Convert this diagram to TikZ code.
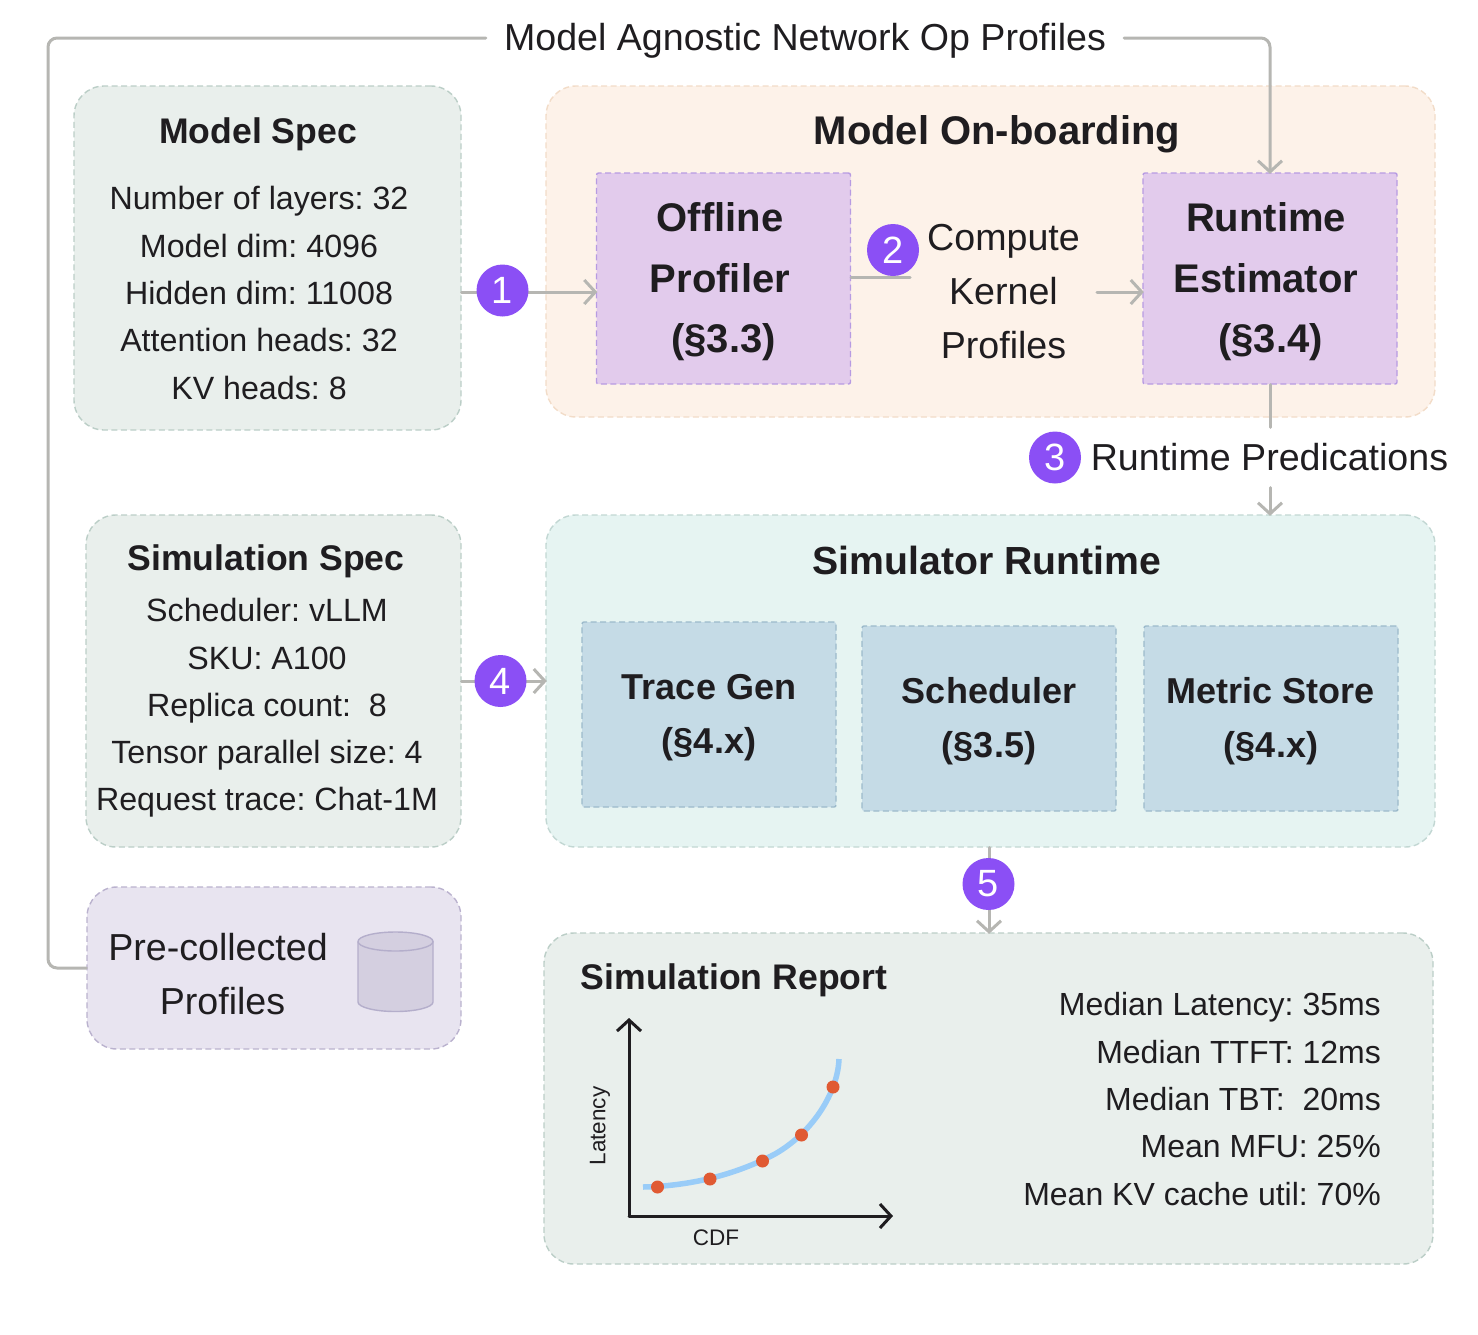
\documentclass[tikz,border=0pt]{standalone}
\usepackage{fontspec}
\setmainfont{Liberation Sans}
\usetikzlibrary{arrows.meta,calc}
\frenchspacing
\definecolor{ink}{HTML}{1F1D20}
\definecolor{conn}{HTML}{B6B6B2}
\definecolor{badge}{HTML}{8B4FF5}
\definecolor{specfill}{HTML}{E9EFEC}\definecolor{specline}{HTML}{BBCEC7}
\definecolor{onbfill}{HTML}{FDF2E9}\definecolor{onbline}{HTML}{F2DCC8}
\definecolor{purfill}{HTML}{E2CBEC}\definecolor{purline}{HTML}{B79BE2}
\definecolor{simfill}{HTML}{E6F4F2}\definecolor{simline}{HTML}{C2D7D3}
\definecolor{blufill}{HTML}{C5DBE6}\definecolor{bluline}{HTML}{9CBACB}
\definecolor{prefill}{HTML}{E8E4F0}\definecolor{preline}{HTML}{BAB2CE}
\definecolor{cylfill}{HTML}{D4CFE0}\definecolor{cylline}{HTML}{B4AECB}
\definecolor{curvec}{HTML}{99CCF8}
\definecolor{dotc}{HTML}{E05A33}
\tikzset{
  x=1pt,y=-1pt,
  panel/.style={draw,dashed,dash pattern=on 6pt off 3.5pt,line width=1.4pt,rounded corners=30pt,inner sep=0pt},
  inner box/.style={draw,dashed,dash pattern=on 6pt off 3.5pt,line width=1.4pt,rounded corners=2pt,inner sep=0pt},
  body/.style={text=ink,align=center,inner sep=0pt,font=\fontsize{32.2}{47.3}\selectfont},
  metrics/.style={text=ink,align=right,inner sep=0pt,font=\fontsize{32}{47.3}\selectfont},
  head/.style={text=ink,align=center,inner sep=0pt,font=\fontsize{35.6}{47}\selectfont\bfseries},
  bighead/.style={text=ink,align=center,inner sep=0pt,font=\fontsize{36}{54.5}\selectfont\bfseries},
  bigbold/.style={text=ink,align=center,inner sep=0pt,font=\fontsize{40}{60.5}\selectfont\bfseries},
  title/.style={text=ink,align=center,inner sep=0pt,font=\fontsize{40}{50}\selectfont\bfseries},
  label/.style={text=ink,align=center,inner sep=0pt,font=\fontsize{37.6}{54}\selectfont},
  small/.style={text=ink,inner sep=0pt,font=\fontsize{22.5}{24}\selectfont},
  num/.style={circle,fill=badge,text=white,minimum size=52pt,inner sep=0pt,font=\fontsize{38}{38}\selectfont},
  wire/.style={draw=conn,line width=3pt,line cap=round,line join=round},
  go/.style={wire,shorten >=-1.5pt,-{Straight Barb[length=11pt,width=24pt,line width=3pt]}},
  axis/.style={draw=ink,line width=3pt,line cap=round,-{Straight Barb[length=11pt,width=24pt,line width=3pt]}},
  dot/.style={circle,fill=dotc,minimum size=13pt,inner sep=0pt},
  cyl/.style={fill=cylfill,draw=cylline,line width=1.4pt},
}
\begin{document}
\begin{tikzpicture}
\useasboundingbox (0,0) rectangle (1478,1334);
% panels
\node[panel,fill=specfill,draw=specline,minimum width=387pt,minimum height=344pt] (mspec) at (267.5,258) {};
\node[panel,fill=onbfill,draw=onbline,minimum width=889pt,minimum height=331pt] (onb) at (990.5,251.5) {};
\node[panel,fill=specfill,draw=specline,minimum width=375pt,minimum height=332pt] (sspec) at (273.5,681) {};
\node[panel,fill=simfill,draw=simline,minimum width=889pt,minimum height=332pt] (simr) at (990.5,681) {};
\node[panel,fill=prefill,draw=preline,minimum width=374pt,minimum height=162pt] (pre) at (274,968) {};
\node[panel,fill=specfill,draw=specline,minimum width=889pt,minimum height=331pt] (report) at (988.5,1098.5) {};
% inner boxes
\node[inner box,fill=purfill,draw=purline,minimum width=254pt,minimum height=211pt] (off) at (723.5,278.5) {};
\node[inner box,fill=purfill,draw=purline,minimum width=254pt,minimum height=211pt] (rt) at (1270,278.5) {};
\node[inner box,fill=blufill,draw=bluline,minimum width=254pt,minimum height=185pt] (tg) at (709,714.5) {};
\node[inner box,fill=blufill,draw=bluline,minimum width=254pt,minimum height=185pt] (sch) at (989,718.5) {};
\node[inner box,fill=blufill,draw=bluline,minimum width=254pt,minimum height=185pt] (ms) at (1271,718.5) {};
% text of panels
\node[head] (mspect) at (258,134) {Model Spec};
\node[body] (mspecb) at (259,293) {Number of layers: 32\\Model dim: 4096\\Hidden dim: 11008\\Attention heads: 32\\KV heads: 8};
\node[title] (onbt) at (997,134) {Model On-boarding};
\node[bigbold] (offt) at (720,282) {Offline\\Profiler\\\hspace*{7pt}(§3.3)};
\node[bigbold] (rtt) at (1266,282) {Runtime\\Estimator\\\hspace*{9pt}(§3.4)};
\node[head] (sspect) at (266,561) {Simulation Spec};
\node[body] (sspecb) at (267,708) {Scheduler: vLLM\\SKU: A100\\Replica count:\ \ 8\\Tensor parallel size: 4\\Request trace: Chat-1M};
\node[title,font=\fontsize{39.2}{50}\selectfont\bfseries] (simrt) at (987,560) {Simulator Runtime};
\node[bighead] (tgt) at (709,717.5) {Trace Gen\\(§4.x)};
\node[bighead] (scht) at (989,721) {Scheduler\\(§3.5)};
\node[bighead] (mst) at (1271,721) {Metric Store\\(§4.x)};
\node[label] (pret) at (218,974) {Pre-collected\\\hspace*{9pt}Profiles};
\node[head] (rept) at (734,980) {Simulation Report};
\node[metrics,anchor=east] (repm) at (1381,1099) {Median Latency: 35ms\\Median TTFT: 12ms\\Median TBT:\ \ 20ms\\Mean MFU: 25\%\\Mean KV cache util: 70\%};
% labels on connectors
\node[label,inner xsep=18pt] (mano) at (805,41) {Model Agnostic Network Op Profiles};
\node[label,inner xsep=17pt] (comp) at (1003.5,292) {Compute\\Kernel\\Profiles};
\node[label,minimum height=60pt] (pred) at (1269.5,457.5) {Runtime Predications};
% connectors
\coordinate (ytop) at (48,38);
\coordinate (y1) at (0,292);
\coordinate (y2) at (0,277);
\coordinate (x5) at (989,0);
\draw[wire,rounded corners=9pt] (pre.west) -| (ytop) -- (mano.west |- ytop);
\draw[go,rounded corners=9pt] (mano.east |- ytop) -| (rt.north);
\draw[go] (mspec.east |- y1) -- (off.west |- y1);
\draw[wire] (off.east |- y2) -- (comp.west |- y2);
\draw[go] (comp.east |- y1) -- (rt.west |- y1);
\draw[wire] (rt.south) -- (pred.north -| rt.south);
\draw[go] (pred.south -| rt.south) -- (simr.north -| rt.south);
\draw[go] (sspec.east) -- (simr.west);
\draw[go] (simr.south -| x5) -- (report.north -| x5);
% badges
\node[num] (n1) at (502.5,290.5) {1};
\node[num] (n2) at (893,250) {2};
\node[num] (n3) at (1055,457.5) {3};
\node[num] (n4) at (500.5,681) {4};
\node[num] (n5) at (988.5,884) {5};
% cylinder
\draw[cyl] (358,941.5) -- (358,1002) arc[start angle=180,end angle=360,x radius=37.5pt,y radius=9.5pt] -- (433,941.5);
\draw[cyl] (395.5,941.5) ellipse[x radius=37.5pt,y radius=9.5pt];
% chart
\coordinate (orig) at (629,1216);
\coordinate (ytip) at (629,1018);
\coordinate (xtip) at (893,1216);
\draw[axis] (orig) -- (ytip);
\draw[axis] (orig) -- (xtip);
\draw[draw=curvec,line width=5.5pt] (643,1187) .. controls (690,1186) and (735,1175) .. (775,1154) .. controls (815,1131) and (838,1090) .. (839,1059);
\foreach \n/\p in {d1/{657.5,1187},d2/{710,1179},d3/{762.5,1161},d4/{801.5,1135},d5/{833,1087}}
  \node[dot] (\n) at (\p) {};
\node[small,rotate=90] (lat) at (600,1126) {Latency};
\node[small] (cdf) at (716,1238) {CDF};
\end{tikzpicture}
\end{document}
